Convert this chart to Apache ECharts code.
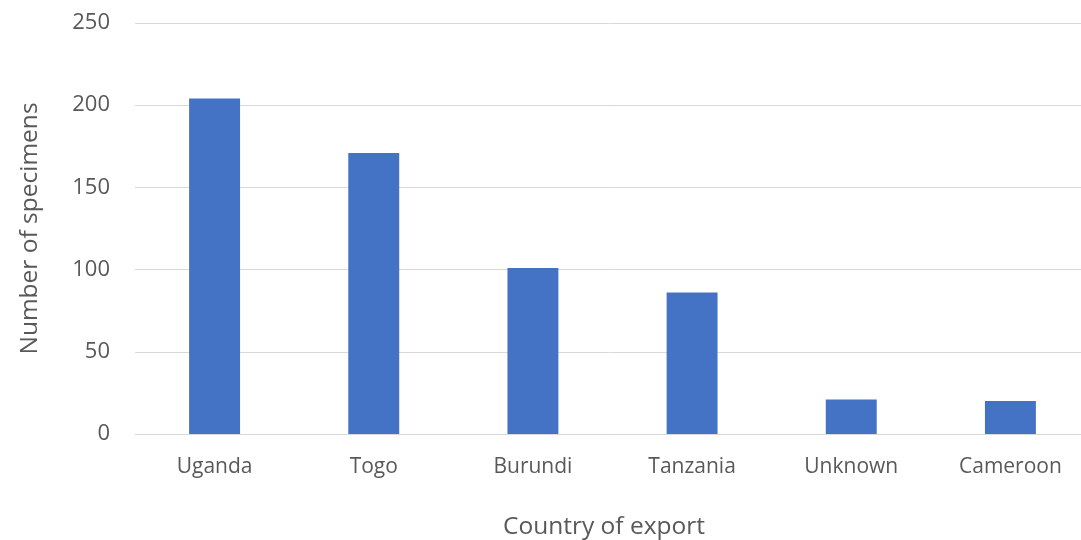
<!DOCTYPE html>
<html><head><meta charset="utf-8">
<script src="https://cdn.jsdelivr.net/npm/echarts@6/dist/echarts.min.js"></script>
<style>html,body{margin:0;padding:0;background:#fff}#c{width:1081px;height:540px}</style>
</head><body><div id="c"></div>
<script>
var categories = ['Uganda','Togo','Burundi','Tanzania','Unknown','Cameroon'];
var specimens = [204, 171, 101, 86, 21, 20];
var yTicks = [0, 50, 100, 150, 200, 250];
var chart = echarts.init(document.getElementById('c'));
var font = '"Open Sans", "Noto Sans", sans-serif';
chart.setOption({
  animation: false,
  grid: {left: 135, right: -9, top: 23, bottom: 106, containLabel: false, outerBoundsMode: 'none'},
  xAxis: {
    type: 'category', data: categories,
    name: 'Country of export', nameLocation: 'middle', nameGap: 81,
    nameTextStyle: {color: '#595959', fontSize: 24.5, fontFamily: font, padding: [0, 17, 0, 0]},
    axisLine: {lineStyle: {color: '#d9d9d9', width: 1}},
    axisTick: {show: false},
    axisLabel: {color: '#595959', fontSize: 21, fontFamily: font, margin: 23}
  },
  yAxis: {
    type: 'value', min: yTicks[0], max: yTicks[yTicks.length-1], interval: 50,
    name: 'Number of specimens', nameLocation: 'middle', nameGap: 92,
    nameTextStyle: {color: '#595959', fontSize: 24.5, fontFamily: font},
    axisLine: {show: false}, axisTick: {show: false},
    splitLine: {lineStyle: {color: '#d9d9d9', width: 1}},
    axisLabel: {color: '#595959', fontSize: 22, fontFamily: font, margin: 25}
  },
  series: [{
    type: 'bar', data: specimens, barWidth: '32%',
    itemStyle: {color: '#4472c4'}
  }]
});
</script></body></html>
